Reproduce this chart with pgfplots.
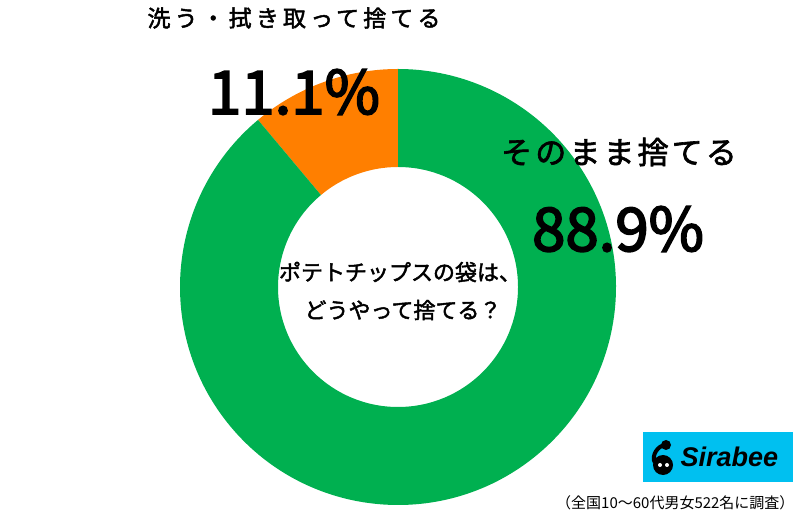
\documentclass[border=0pt]{standalone}
\usepackage{pgfplots}
\usepackage{pgfplotstable}
\pgfplotsset{compat=1.18}
\usetikzlibrary{calc}
\usepackage{fontspec}
\setmainfont{Noto Sans CJK JP}
\newfontfamily\numf{Noto Sans CJK JP}[FakeBold=3]
\newfontfamily\semib{Noto Sans CJK JP}[FakeBold=2]
\newfontfamily\spacedA{Noto Sans CJK JP}[LetterSpace=18,FakeBold=2]
\newfontfamily\spacedB{Noto Sans CJK JP}[LetterSpace=10,FakeBold=2]
\newfontfamily\logofont{Liberation Sans}
\definecolor{cgreen}{HTML}{00B050}
\definecolor{corange}{HTML}{FF7F00}
\definecolor{clogo}{HTML}{00C0F0}
\pgfplotstableread{
label value
wash 11.1
asis 88.9
}\shares
\pgfplotstablegetelem{0}{value}\of\shares \let\vA\pgfplotsretval
\pgfplotstablegetelem{1}{value}\of\shares \let\vB\pgfplotsretval
\pgfmathsetmacro{\aS}{90}
\pgfmathsetmacro{\aM}{90+3.6*\vA}
\pgfmathsetmacro{\aE}{\aM+3.6*\vB}
\begin{document}
\begin{tikzpicture}
\useasboundingbox (0,0) rectangle (799pt,513pt);
\begin{axis}[
  at={(0,0)}, anchor=south west,
  scale only axis, width=799pt, height=513pt,
  xmin=0, xmax=799, ymin=0, ymax=513,
  hide axis, clip=false]
\fill[corange] (axis cs:398,226) ++(\aS:218pt) arc[start angle=\aS, end angle=\aM, radius=218pt]
  -- ($(axis cs:398,226)+(\aM:120pt)$) arc[start angle=\aM, end angle=\aS, radius=120pt] -- cycle;
\fill[cgreen] (axis cs:398,226) ++(\aM:218pt) arc[start angle=\aM, end angle=\aE, radius=218pt]
  -- ($(axis cs:398,226)+(\aE:120pt)$) arc[start angle=\aE, end angle=\aM, radius=120pt] -- cycle;
% labels
\node[font=\spacedA\fontsize{23}{23}\selectfont] at (axis cs:294,495) {洗う・\hspace{4pt}拭き取って捨てる};
\node[font=\numf\fontsize{60}{60}\selectfont] at (axis cs:294,421) {11.1\%};
\node[font=\spacedB\fontsize{31}{31}\selectfont] at (axis cs:619,361) {そのまま捨てる};
\node[font=\numf\fontsize{60}{60}\selectfont] at (axis cs:618,284) {88.9\%};
\node[font=\semib\fontsize{22}{22}\selectfont] at (axis cs:400,241) {ポテトチップスの袋は、};
\node[font=\semib\fontsize{22}{22}\selectfont] at (axis cs:403,203) {どうやって捨てる？};
% logo
\fill[clogo] (axis cs:643,31) rectangle (axis cs:793,81);
\fill[black] (axis cs:663,48) circle[radius=10pt];
\fill[black] (axis cs:666,68) circle[radius=5pt];
\draw[black,line width=4pt] (axis cs:666,68) to[out=180,in=120] (axis cs:655,50);
\fill[white] (axis cs:660,48) circle[radius=2pt];
\fill[white] (axis cs:667,48) circle[radius=2pt];
\node[font=\logofont\bfseries\itshape\fontsize{27}{27}\selectfont, anchor=west] at (axis cs:677,56) {Sirabee};
\node[font=\fontsize{15}{15}\selectfont, anchor=east] at (axis cs:798,10) {（全国10〜60代男女522名に調査）};
\end{axis}
\end{tikzpicture}
\end{document}
